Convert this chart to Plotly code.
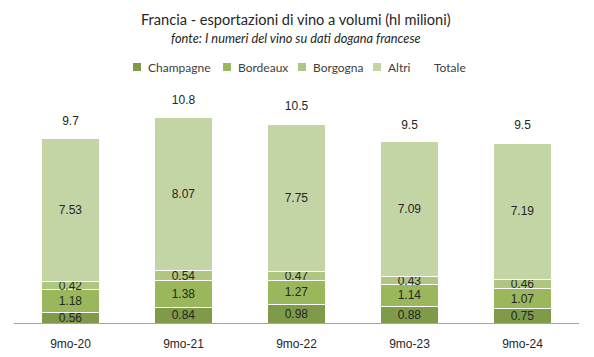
import plotly.graph_objects as go

categories = ["9mo-20", "9mo-21", "9mo-22", "9mo-23", "9mo-24"]
champagne = [0.56, 0.84, 0.98, 0.88, 0.75]
bordeaux = [1.18, 1.38, 1.27, 1.14, 1.07]
borgogna = [0.42, 0.54, 0.47, 0.43, 0.46]
altri = [7.53, 8.07, 7.75, 7.09, 7.19]
totale = [9.7, 10.8, 10.5, 9.5, 9.5]

series_names = ["Champagne", "Bordeaux", "Borgogna", "Altri"]
series_values = [champagne, bordeaux, borgogna, altri]
series_colors = ["#7F9A48", "#9AB75B", "#AEC67F", "#C3D4A5"]

LABEL_FONT = dict(family="Liberation Sans, Arial", size=12, color="#262626")
LEGEND_FONT = dict(family="Lato", size=12, color="#404040")

fig = go.Figure()
for name, vals, col in zip(series_names, series_values, series_colors):
    fig.add_trace(go.Bar(
        name=name, x=categories, y=vals, showlegend=False,
        marker=dict(color=col, line=dict(color="white", width=1)),
        text=[f"{v:.2f}" for v in vals],
        textposition="inside", insidetextanchor="middle",
        textfont=LABEL_FONT, hoverinfo="skip",
    ))

fig.add_trace(go.Scatter(
    x=categories, y=totale, mode="markers+text", name="Totale",
    marker=dict(size=15, color="rgba(0,0,0,0)"),
    text=[f"{v:.1f}" for v in totale], textposition="top center",
    textfont=LABEL_FONT, showlegend=False, hoverinfo="skip",
))

# legend drawn as small squares + text (compact, as in the reference)
PLOT_L, PLOT_W, PLOT_B, PLOT_H = 14, 565, 323, 233
def px_x(X):
    return (X - PLOT_L) / PLOT_W
def px_y(Y):
    return (PLOT_B - Y) / PLOT_H

legend_square_x = [137, 227, 302, 377]
legend_y = 67
shapes = []
annotations = []
for name, col, sx in zip(series_names, series_colors, legend_square_x):
    shapes.append(dict(type="rect", xref="paper", yref="paper",
                       x0=px_x(sx - 4), x1=px_x(sx + 4), y0=px_y(legend_y + 4), y1=px_y(legend_y - 4),
                       fillcolor=col, line=dict(width=0)))
    annotations.append(dict(text=name, xref="paper", yref="paper", x=px_x(sx + 9), y=px_y(legend_y),
                            xanchor="left", yanchor="middle", showarrow=False, font=LEGEND_FONT))
annotations.append(dict(text="Totale", xref="paper", yref="paper", x=px_x(432), y=px_y(legend_y),
                        xanchor="left", yanchor="middle", showarrow=False, font=LEGEND_FONT))

annotations += [
    dict(text="Francia - esportazioni di vino a volumi (hl milioni)",
         xref="paper", yref="paper", x=px_x(296), y=px_y(20), xanchor="center", yanchor="middle",
         showarrow=False, font=dict(family="Lato", size=14.6, color="#262626")),
    dict(text="<i>fonte: I numeri del vino su dati dogana francese</i>",
         xref="paper", yref="paper", x=px_x(296), y=px_y(38), xanchor="center", yanchor="middle",
         showarrow=False, font=dict(family="Lato", size=12.8, color="#262626")),
]

fig.update_layout(
    barmode="stack",
    bargap=0.49,
    width=594, height=357,
    margin=dict(l=PLOT_L, r=594 - PLOT_L - PLOT_W, t=PLOT_B - PLOT_H, b=357 - PLOT_B),
    paper_bgcolor="white", plot_bgcolor="white",
    uniformtext=dict(minsize=12, mode="show"),
    showlegend=False,
    xaxis=dict(
        showline=True, linecolor="#A6A6A6", linewidth=1,
        tickfont=LABEL_FONT, ticks="outside", ticklen=10, tickcolor="rgba(0,0,0,0)",
        showgrid=False, automargin=False,
    ),
    yaxis=dict(range=[0, 12.26], visible=False, showgrid=False),
    shapes=shapes,
    annotations=annotations,
)

fig.write_html("out.html", config={"displayModeBar": False},
               post_script="document.body.style.margin='0px';")
